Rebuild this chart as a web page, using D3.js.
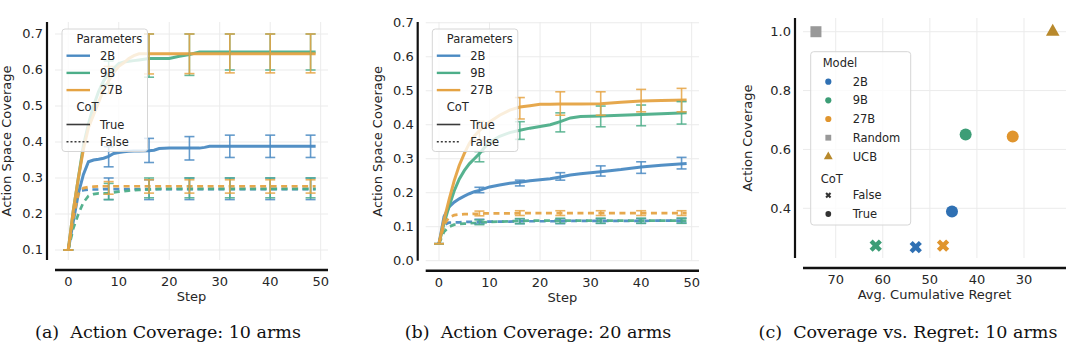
<!DOCTYPE html>
<html>
<head>
<meta charset="utf-8">
<script src="https://cdn.jsdelivr.net/npm/d3@7"></script>
<style>
body{margin:0;background:#fff;}
svg text{font-family:"DejaVu Sans",sans-serif;fill:#262626;}
svg text.cap{font-family:"DejaVu Serif",serif;font-size:17.5px;fill:#111;white-space:pre;}
</style>
</head>
<body>
<svg id="chart" width="1080" height="359"></svg>
<script>
// ---------- data ----------
var models = ["2B","9B","27B"];
var colors = {"2B":"#4a8ac2","9B":"#4dae89","27B":"#e5a343"};
var dotColors = {"2B":"#2f70b3","9B":"#3c9d76","27B":"#e0952e"};

// panel (a): 10 arms
var stepsA = [0,1,2,3,4,5,6,7,8,9,10,11,12,13,14,16,17,18,20,22,24,26,27,28,32,40,49];
var a2BTrue  = [.10,.18,.257,.31,.345,.35,.352,.355,.36,.368,.371,.373,.374,.375,.375,.376,.377,.382,.383,.383,.383,.383,.385,.388,.388,.388,.388];
var a9BTrue  = [.10,.21,.30,.39,.45,.50,.54,.57,.59,.605,.618,.622,.624,.626,.628,.632,.632,.632,.632,.638,.643,.65,.65,.65,.65,.65,.65];
var a27BTrue = [.10,.21,.30,.38,.44,.475,.51,.545,.57,.593,.61,.62,.632,.64,.645,.645,.645,.645,.645,.645,.645,.645,.645,.645,.645,.645,.645];
var a2BFalse = [.10,.20,.262,.266,.268,.268,.268,.269,.269,.269,.269,.269,.269,.269,.269,.269,.269,.269,.269,.269,.269,.269,.269,.269,.269,.269,.269];
var a9BFalse = [.10,.16,.20,.232,.25,.255,.257,.257,.258,.26,.262,.263,.265,.266,.267,.268,.269,.27,.27,.27,.27,.27,.27,.27,.27,.27,.27];
var a27BFalse= [.10,.19,.255,.272,.275,.276,.277,.277,.277,.277,.277,.277,.277,.277,.277,.277,.277,.277,.277,.277,.277,.277,.277,.277,.277,.277,.277];

var errSteps = [8,16,24,32,40,48];
var aErr = {
  "2B-True":   {lo:[.331,.343,.35,.357,.357,.357], hi:[.387,.41,.415,.419,.419,.419]},
  "9B-True":   {lo:[.56,.58,.585,.60,.60,.60],     hi:[.625,.70,.70,.70,.70,.70]},
  "27B-True":  {lo:[.535,.589,.59,.592,.592,.592], hi:[.61,.70,.70,.70,.70,.70]},
  "2B-False":  {lo:[.24,.24,.24,.24,.24,.24],      hi:[.30,.295,.30,.30,.30,.30]},
  "9B-False":  {lo:[.24,.245,.245,.245,.245,.245], hi:[.285,.30,.30,.30,.30,.30]},
  "27B-False": {lo:[.255,.258,.258,.258,.258,.258],hi:[.29,.295,.295,.295,.295,.295]}
};

// panel (b): 20 arms
var stepsB = [0,1,2,3,4,5,6,7,8,9,10,12,14,16,18,20,22,24,26,28,32,36,40,44,49];
var b2BTrue  = [.05,.13,.158,.172,.182,.19,.197,.203,.207,.212,.217,.223,.228,.231,.235,.238,.241,.246,.252,.256,.262,.268,.276,.281,.286];
var b9BTrue  = [.05,.11,.16,.205,.24,.265,.285,.30,.315,.333,.348,.366,.377,.384,.39,.395,.40,.409,.42,.424,.426,.428,.43,.432,.435];
var b27BTrue = [.05,.12,.18,.235,.28,.315,.345,.367,.383,.396,.408,.428,.443,.452,.456,.46,.46,.461,.461,.461,.462,.466,.47,.471,.473];
var b2BFalse = [.05,.105,.112,.113,.113,.114,.114,.114,.115,.115,.115,.115,.115,.116,.116,.116,.116,.116,.117,.117,.117,.117,.117,.118,.118];
var b9BFalse = [.05,.085,.10,.106,.108,.109,.11,.111,.112,.113,.114,.115,.116,.117,.118,.118,.118,.118,.118,.118,.118,.118,.118,.118,.118];
var b27BFalse= [.05,.105,.128,.134,.136,.137,.137,.138,.138,.139,.139,.139,.139,.14,.14,.14,.14,.14,.14,.14,.14,.14,.14,.14,.14];
var bErr = {
  "2B-True":   {lo:[.200,.220,.237,.249,.257,.270], hi:[.216,.237,.259,.279,.291,.304]},
  "9B-True":   {lo:[.291,.357,.379,.394,.397,.402], hi:[.321,.409,.435,.455,.458,.468]},
  "27B-True":  {lo:[.355,.417,.428,.428,.438,.438], hi:[.41,.48,.497,.497,.504,.507]},
  "2B-False":  {lo:[.108,.109,.109,.11,.11,.111],   hi:[.122,.123,.123,.124,.124,.125]},
  "9B-False":  {lo:[.106,.109,.11,.11,.11,.11],     hi:[.12,.124,.125,.125,.125,.125]},
  "27B-False": {lo:[.132,.133,.133,.133,.133,.133], hi:[.146,.147,.147,.147,.147,.147]}
};

// panel (c): coverage vs regret
var regretTrue  = [45.3,42.4,32.4];
var coverTrue   = [.389,.651,.644];
var regretFalse = [53.0,61.5,47.2];
var coverFalse  = [.268,.273,.273];
var randomPt = [74.2,1.0];
var ucbPt    = [23.9,1.0];

var ticksA = [0.1,0.2,0.3,0.4,0.5,0.6,0.7];
var ticksB = [0.0,0.1,0.2,0.3,0.4,0.5,0.6,0.7];
var ticksStep = [0,10,20,30,40,50];
var ticksCx = [70,60,50,40,30];
var ticksCy = [0.4,0.6,0.8,1.0];

var svg = d3.select("#chart");

function series(steps, arrs){
  var out = [];
  models.forEach(function(m,i){
    out.push({model:m, cot:"True",  pts:steps.map(function(s,j){return [s,arrs[i][j]];})});
    out.push({model:m, cot:"False", pts:steps.map(function(s,j){return [s,arrs[i+3][j]];})});
  });
  return out;
}

function frame(x, y, xt, yt, yfmt, xlab, ylab, ylabX){
  var g = svg.append("g");
  var x0 = x.range()[0], x1 = x.range()[1];
  var y0 = y.range()[0], y1 = y.range()[1];
  // grid
  g.selectAll(".gx").data(xt).enter().append("line")
    .attr("x1",function(d){return x(d);}).attr("x2",function(d){return x(d);})
    .attr("y1",y0).attr("y2",y1).attr("stroke","#ebebeb").attr("stroke-width",1);
  g.selectAll(".gy").data(yt).enter().append("line")
    .attr("x1",x0).attr("x2",x1)
    .attr("y1",function(d){return y(d);}).attr("y2",function(d){return y(d);})
    .attr("stroke","#ebebeb").attr("stroke-width",1);
  // spines (offset)
  g.append("line").attr("x1",x0-8).attr("x2",x0-8).attr("y1",y0).attr("y2",y1)
    .attr("stroke","#111").attr("stroke-width",2.2);
  g.append("line").attr("x1",x0).attr("x2",x1).attr("y1",y0+10).attr("y2",y0+10)
    .attr("stroke","#111").attr("stroke-width",2.5);
  // tick labels
  g.selectAll(".tx").data(xt).enter().append("text")
    .attr("x",function(d){return x(d);}).attr("y",y0+26)
    .attr("text-anchor","middle").style("font-size","13px").text(function(d){return d;});
  g.selectAll(".ty").data(yt).enter().append("text")
    .attr("x",x0-12).attr("y",function(d){return y(d)+4.5;})
    .attr("text-anchor","end").style("font-size","13px").text(yfmt);
  g.append("text").attr("x",(x0+x1)/2).attr("y",y0+41).attr("text-anchor","middle")
    .style("font-size","13px").text(xlab);
  g.append("text").attr("transform","translate("+ylabX+","+((y0+y1)/2)+") rotate(-90)")
    .attr("text-anchor","middle").style("font-size","13px").text(ylab);
  return g;
}

function linePanel(x, y, data, errs, yt, legX){
  var g = frame(x, y, ticksStep, yt, d3.format(".1f"), "Step", "Action Space Coverage", x.range()[0]-44);
  var line = d3.line().x(function(d){return x(d[0]);}).y(function(d){return y(d[1]);});
  data.forEach(function(s){
    g.append("path").attr("d",line(s.pts)).attr("fill","none")
      .attr("stroke",colors[s.model]).attr("stroke-width",s.cot=="True"?3:2.7)
      .attr("stroke-dasharray",s.cot=="True"?null:"6,4.5")
      .attr("stroke-opacity",0.95);
  });
  // error bars
  data.forEach(function(s){
    var e = errs[s.model+"-"+s.cot];
    errSteps.forEach(function(st,i){
      var cx = x(st);
      var eg = g.append("g").attr("stroke",colors[s.model]).attr("stroke-opacity",0.85).attr("stroke-width",1.6);
      eg.append("line").attr("x1",cx).attr("x2",cx).attr("y1",y(e.lo[i])).attr("y2",y(e.hi[i]));
      eg.append("line").attr("x1",cx-5).attr("x2",cx+5).attr("y1",y(e.lo[i])).attr("y2",y(e.lo[i]));
      eg.append("line").attr("x1",cx-5).attr("x2",cx+5).attr("y1",y(e.hi[i])).attr("y2",y(e.hi[i]));
    });
    // starting cap at step 0
    var c0 = x(0), v0 = s.pts[0][1];
    g.append("line").attr("x1",c0-5).attr("x2",c0+5).attr("y1",y(v0)).attr("y2",y(v0))
      .attr("stroke",colors[s.model]).attr("stroke-opacity",0.85).attr("stroke-width",1.6);
  });
  // legend
  var lg = g.append("g").attr("transform","translate("+legX+",29)");
  lg.append("rect").attr("width",85.5).attr("height",122.5).attr("rx",3)
    .attr("fill","#fff").attr("fill-opacity",0.8).attr("stroke","#d6d6d6").attr("stroke-width",1);
  var rows = [
    {t:"Parameters", title:true},
    {t:"2B", c:colors["2B"]},{t:"9B", c:colors["9B"]},{t:"27B", c:colors["27B"]},
    {t:"CoT", title:true},
    {t:"True", c:"#3a3a3a", w:1.6},{t:"False", c:"#3a3a3a", w:1.6, dash:"2,2"}
  ];
  rows.forEach(function(r,i){
    var yy = 9.5 + i*17.2;
    if(r.title){
      lg.append("text").attr("x",14.5).attr("y",yy+4).style("font-size","11.5px").text(r.t);
    }else{
      lg.append("line").attr("x1",4.5).attr("x2",28).attr("y1",yy).attr("y2",yy)
        .attr("stroke",r.c).attr("stroke-width",r.w||2.4).attr("stroke-dasharray",r.dash||null);
      lg.append("text").attr("x",38).attr("y",yy+4).style("font-size","11.5px").text(r.t);
    }
  });
}

// ---------- panel (a) ----------
var xA = d3.scaleLinear().domain([-2.63,51.45]).range([55,328]);
var yA = d3.scaleLinear().domain([0.0722,0.7333]).range([260,22]);
linePanel(xA, yA, series(stepsA,[a2BTrue,a9BTrue,a27BTrue,a2BFalse,a9BFalse,a27BFalse]), aErr, ticksA, 62);

// ---------- panel (b) ----------
var xB = d3.scaleLinear().domain([-2.63,51.45]).range([425.7,699]);
var yB = d3.scaleLinear().domain([0.0,0.7023]).range([260.7,22]);
linePanel(xB, yB, series(stepsB,[b2BTrue,b9BTrue,b27BTrue,b2BFalse,b9BFalse,b27BFalse]), bErr, ticksB, 432.3);

// ---------- panel (c) ----------
var xC = d3.scaleLinear().domain([76.95,21.08]).range([803,1066]);
var yC = d3.scaleLinear().domain([0.231,1.0466]).range([258,18]);
var gc = frame(xC, yC, ticksCx, ticksCy, d3.format(".1f"), "Avg. Cumulative Regret", "Action Coverage", 752);

var ptsTrue = models.map(function(m,i){return {m:m, x:regretTrue[i], y:coverTrue[i]};});
var ptsFalse = models.map(function(m,i){return {m:m, x:regretFalse[i], y:coverFalse[i]};});
var xSym = d3.symbol().type(d3.symbolCross).size(95);

gc.selectAll(".pt").data(ptsTrue).enter().append("circle")
  .attr("cx",function(d){return xC(d.x);}).attr("cy",function(d){return yC(d.y);})
  .attr("r",6).attr("fill",function(d){return dotColors[d.m];});
gc.selectAll(".px").data(ptsFalse).enter().append("path")
  .attr("d",xSym)
  .attr("transform",function(d){return "translate("+xC(d.x)+","+yC(d.y)+") rotate(45)";})
  .attr("fill",function(d){return dotColors[d.m];});
gc.append("path").attr("d",d3.symbol().type(d3.symbolSquare).size(121))
  .attr("transform","translate("+xC(randomPt[0])+","+yC(randomPt[1])+")").attr("fill","#999999");
gc.append("path").attr("d",d3.symbol().type(d3.symbolTriangle).size(80))
  .attr("transform","translate("+xC(ucbPt[0])+","+yC(ucbPt[1])+")").attr("fill","#b8892c");

// legend (c)
var lc = gc.append("g").attr("transform","translate(810.7,51.7)");
lc.append("rect").attr("width",100).attr("height",173.3).attr("rx",3)
  .attr("fill","#fff").attr("fill-opacity",0.8).attr("stroke","#d6d6d6").attr("stroke-width",1);
var crow = [
  {t:"Model", title:true, y:11.6},
  {t:"2B", s:d3.symbolCircle, sz:30, c:dotColors["2B"], y:30},
  {t:"9B", s:d3.symbolCircle, sz:30, c:dotColors["9B"], y:48.6},
  {t:"27B", s:d3.symbolCircle, sz:30, c:dotColors["27B"], y:67.3},
  {t:"Random", s:d3.symbolSquare, sz:34, c:"#999999", y:86},
  {t:"UCB", s:d3.symbolTriangle, sz:34, c:"#b8892c", y:105},
  {t:"CoT", title:true, y:127.6},
  {t:"False", s:d3.symbolCross, sz:22, c:"#333", rot:45, y:143.6},
  {t:"True", s:d3.symbolCircle, sz:26, c:"#333", y:162.3}
];
crow.forEach(function(r){
  if(r.title){
    lc.append("text").attr("x",r.t=="CoT"?10:12).attr("y",r.y+4).style("font-size","11.5px").text(r.t);
  }else{
    lc.append("path").attr("d",d3.symbol().type(r.s).size(r.sz))
      .attr("transform","translate(17.6,"+r.y+")"+(r.rot?" rotate(45)":"")).attr("fill",r.c);
    lc.append("text").attr("x",42).attr("y",r.y+4).style("font-size","11.5px").text(r.t);
  }
});

// captions
var caps = [["(a)  Action Coverage: 10 arms",168],["(b)  Action Coverage: 20 arms",538],["(c)  Coverage vs. Regret: 10 arms",908]];
svg.selectAll(".cap").data(caps).enter().append("text").attr("class","cap")
  .attr("x",function(d){return d[1];}).attr("y",338).attr("text-anchor","middle").text(function(d){return d[0];});
</script>
</body>
</html>
